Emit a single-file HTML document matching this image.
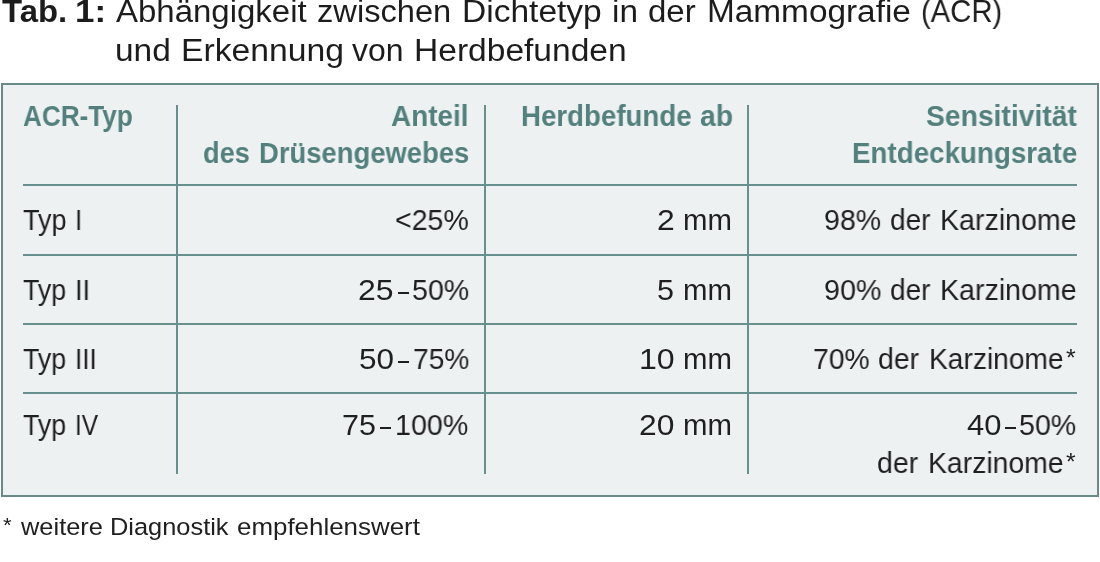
<!DOCTYPE html>
<html><head><meta charset="utf-8"><style>
html,body{margin:0;padding:0;background:#fff;}
body{width:1100px;height:562px;position:relative;overflow:hidden;font-family:"Liberation Sans",sans-serif;}
.box{position:absolute;left:1px;top:83px;width:1098px;height:414px;box-sizing:border-box;border:2px solid #6a8a87;background:#eef1f2;}
.hl{position:absolute;left:23px;width:1054px;height:2px;background:#67908d;}
.vl{position:absolute;top:105px;width:2px;height:369px;background:#67908d;}
.t{position:absolute;white-space:nowrap;transform-origin:0 0;will-change:transform;}
.dash{position:absolute;height:2px;}
</style></head><body>
<div class="box"></div>
<div class="hl" style="top:184px"></div>
<div class="hl" style="top:254px"></div>
<div class="hl" style="top:323px"></div>
<div class="hl" style="top:392px"></div>
<div class="vl" style="left:176px"></div>
<div class="vl" style="left:484px"></div>
<div class="vl" style="left:747px"></div>
<div class="t title-b" style="left:1.67px;top:-3.79px;font-size:31.000px;line-height:31.000px;font-weight:bold;color:#1c1c1c;transform:scaleX(1.0597)">Tab.</div>
<div class="t title-b" style="left:74.82px;top:-3.79px;font-size:31.000px;line-height:31.000px;font-weight:bold;color:#1c1c1c;transform:scaleX(1.1268)">1:</div>
<div class="t title1" style="left:115.52px;top:-3.79px;font-size:31.000px;line-height:31.000px;font-weight:normal;color:#1c1c1c;transform:scaleX(1.0634)">Abhängigkeit</div>
<div class="t title1" style="left:317.49px;top:-3.79px;font-size:31.000px;line-height:31.000px;font-weight:normal;color:#1c1c1c;transform:scaleX(1.0529)">zwischen</div>
<div class="t title1" style="left:462.13px;top:-3.79px;font-size:31.000px;line-height:31.000px;font-weight:normal;color:#1c1c1c;transform:scaleX(1.0814)">Dichtetyp</div>
<div class="t title1" style="left:612.25px;top:-3.79px;font-size:31.000px;line-height:31.000px;font-weight:normal;color:#1c1c1c;transform:scaleX(1.0753)">in</div>
<div class="t title1" style="left:648.10px;top:-3.79px;font-size:31.000px;line-height:31.000px;font-weight:normal;color:#1c1c1c;transform:scaleX(1.0648)">der</div>
<div class="t title1" style="left:706.55px;top:-3.79px;font-size:31.000px;line-height:31.000px;font-weight:normal;color:#1c1c1c;transform:scaleX(1.0759)">Mammografie</div>
<div class="t title1" style="left:920.67px;top:-3.79px;font-size:31.000px;line-height:31.000px;font-weight:normal;color:#1c1c1c;transform:scaleX(0.9425)">(ACR)</div>
<div class="t title2" style="left:114.83px;top:35.21px;font-size:31.000px;line-height:31.000px;font-weight:normal;color:#1c1c1c;transform:scaleX(1.0788)">und</div>
<div class="t title2" style="left:180.82px;top:35.21px;font-size:31.000px;line-height:31.000px;font-weight:normal;color:#1c1c1c;transform:scaleX(1.0867)">Erkennung</div>
<div class="t title2" style="left:351.64px;top:35.21px;font-size:31.000px;line-height:31.000px;font-weight:normal;color:#1c1c1c;transform:scaleX(1.0306)">von</div>
<div class="t title2" style="left:413.53px;top:35.21px;font-size:31.000px;line-height:31.000px;font-weight:normal;color:#1c1c1c;transform:scaleX(1.0824)">Herdbefunden</div>
<div class="t h1" style="left:23.15px;top:101.90px;font-size:29.000px;line-height:29.000px;font-weight:bold;color:#53807d;transform:scaleX(0.9001)">ACR-Typ</div>
<div class="t h2a" style="left:391.30px;top:101.90px;font-size:29.000px;line-height:29.000px;font-weight:bold;color:#53807d;transform:scaleX(0.9615)">Anteil</div>
<div class="t h2b" style="left:203.41px;top:138.90px;font-size:29.000px;line-height:29.000px;font-weight:bold;color:#53807d;transform:scaleX(0.9384)">des</div>
<div class="t h2b" style="left:258.95px;top:138.90px;font-size:29.000px;line-height:29.000px;font-weight:bold;color:#53807d;transform:scaleX(0.9451)">Drüsengewebes</div>
<div class="t h3" style="left:520.83px;top:101.90px;font-size:29.000px;line-height:29.000px;font-weight:bold;color:#53807d;transform:scaleX(0.9540)">Herdbefunde</div>
<div class="t h3" style="left:699.65px;top:101.90px;font-size:29.000px;line-height:29.000px;font-weight:bold;color:#53807d;transform:scaleX(0.9731)">ab</div>
<div class="t h4a" style="left:926.05px;top:101.90px;font-size:29.000px;line-height:29.000px;font-weight:bold;color:#53807d;transform:scaleX(0.9754)">Sensitivität</div>
<div class="t h4b" style="left:851.73px;top:138.90px;font-size:29.000px;line-height:29.000px;font-weight:bold;color:#53807d;transform:scaleX(0.9571)">Entdeckungsrate</div>
<div class="t r1a" style="left:23.29px;top:205.90px;font-size:29.000px;line-height:29.000px;font-weight:normal;color:#1f1f1f;transform:scaleX(0.9337)">Typ</div>
<div class="t r1a" style="left:75.20px;top:205.90px;font-size:29.000px;line-height:29.000px;font-weight:normal;color:#1f1f1f;transform:scaleX(0.8947)">I</div>
<div class="t r1b" style="left:395.17px;top:205.90px;font-size:29.000px;line-height:29.000px;font-weight:normal;color:#1f1f1f;transform:scaleX(0.9834)">&lt;25%</div>
<div class="t r1c" style="left:656.91px;top:205.90px;font-size:29.000px;line-height:29.000px;font-weight:normal;color:#1f1f1f;transform:scaleX(1.0989)">2</div>
<div class="t r1c" style="left:683.02px;top:205.90px;font-size:29.000px;line-height:29.000px;font-weight:normal;color:#1f1f1f;transform:scaleX(1.0125)">mm</div>
<div class="t r1d" style="left:823.94px;top:205.90px;font-size:29.000px;line-height:29.000px;font-weight:normal;color:#1f1f1f;transform:scaleX(0.9837)">98%</div>
<div class="t r1d" style="left:890.31px;top:205.90px;font-size:29.000px;line-height:29.000px;font-weight:normal;color:#1f1f1f;transform:scaleX(0.9643)">der</div>
<div class="t r1d" style="left:940.14px;top:205.90px;font-size:29.000px;line-height:29.000px;font-weight:normal;color:#1f1f1f;transform:scaleX(0.9858)">Karzinome</div>
<div class="t r2a" style="left:23.40px;top:275.90px;font-size:29.000px;line-height:29.000px;font-weight:normal;color:#1f1f1f;transform:scaleX(0.9247)">Typ</div>
<div class="t r2a" style="left:74.97px;top:275.90px;font-size:29.000px;line-height:29.000px;font-weight:normal;color:#1f1f1f;transform:scaleX(0.9413)">II</div>
<div class="t r2b" style="left:358.40px;top:275.90px;font-size:29.000px;line-height:29.000px;font-weight:normal;color:#1f1f1f;transform:scaleX(1.1021)">25</div>
<div class="dash" style="left:397.90px;top:291.50px;width:11.20px;background:#1f1f1f"></div>
<div class="t r2b" style="left:412.06px;top:275.90px;font-size:29.000px;line-height:29.000px;font-weight:normal;color:#1f1f1f;transform:scaleX(0.9852)">50%</div>
<div class="t r2c" style="left:657.28px;top:275.90px;font-size:29.000px;line-height:29.000px;font-weight:normal;color:#1f1f1f;transform:scaleX(1.0526)">5</div>
<div class="t r2c" style="left:683.02px;top:275.90px;font-size:29.000px;line-height:29.000px;font-weight:normal;color:#1f1f1f;transform:scaleX(1.0125)">mm</div>
<div class="t r2d" style="left:823.64px;top:275.90px;font-size:29.000px;line-height:29.000px;font-weight:normal;color:#1f1f1f;transform:scaleX(0.9891)">90%</div>
<div class="t r2d" style="left:890.31px;top:275.90px;font-size:29.000px;line-height:29.000px;font-weight:normal;color:#1f1f1f;transform:scaleX(0.9643)">der</div>
<div class="t r2d" style="left:940.14px;top:275.90px;font-size:29.000px;line-height:29.000px;font-weight:normal;color:#1f1f1f;transform:scaleX(0.9858)">Karzinome</div>
<div class="t r3a" style="left:23.40px;top:344.90px;font-size:29.000px;line-height:29.000px;font-weight:normal;color:#1f1f1f;transform:scaleX(0.9247)">Typ</div>
<div class="t r3a" style="left:75.07px;top:344.90px;font-size:29.000px;line-height:29.000px;font-weight:normal;color:#1f1f1f;transform:scaleX(0.9053)">III</div>
<div class="t r3b" style="left:359.34px;top:344.90px;font-size:29.000px;line-height:29.000px;font-weight:normal;color:#1f1f1f;transform:scaleX(1.0854)">50</div>
<div class="dash" style="left:397.90px;top:360.50px;width:11.20px;background:#1f1f1f"></div>
<div class="t r3b" style="left:412.92px;top:344.90px;font-size:29.000px;line-height:29.000px;font-weight:normal;color:#1f1f1f;transform:scaleX(0.9700)">75%</div>
<div class="t r3c" style="left:638.59px;top:344.90px;font-size:29.000px;line-height:29.000px;font-weight:normal;color:#1f1f1f;transform:scaleX(1.1062)">10</div>
<div class="t r3c" style="left:683.02px;top:344.90px;font-size:29.000px;line-height:29.000px;font-weight:normal;color:#1f1f1f;transform:scaleX(1.0125)">mm</div>
<div class="t r3d" style="left:813.11px;top:344.90px;font-size:29.000px;line-height:29.000px;font-weight:normal;color:#1f1f1f;transform:scaleX(0.9754)">70%</div>
<div class="t r3d" style="left:877.79px;top:344.90px;font-size:29.000px;line-height:29.000px;font-weight:normal;color:#1f1f1f;transform:scaleX(0.9792)">der</div>
<div class="t r3d" style="left:928.68px;top:344.90px;font-size:29.000px;line-height:29.000px;font-weight:normal;color:#1f1f1f;transform:scaleX(0.9709)">Karzinome</div>
<div class="t r3d" style="left:1065.96px;top:346.18px;font-size:24.000px;line-height:24.000px;font-weight:normal;color:#1f1f1f;transform:scaleX(1.0446)">*</div>
<div class="t r4a" style="left:23.40px;top:410.90px;font-size:29.000px;line-height:29.000px;font-weight:normal;color:#1f1f1f;transform:scaleX(0.9247)">Typ</div>
<div class="t r4a" style="left:75.24px;top:410.90px;font-size:29.000px;line-height:29.000px;font-weight:normal;color:#1f1f1f;transform:scaleX(0.8422)">IV</div>
<div class="t r4b" style="left:342.40px;top:410.90px;font-size:29.000px;line-height:29.000px;font-weight:normal;color:#1f1f1f;transform:scaleX(1.0506)">75</div>
<div class="dash" style="left:380.20px;top:426.50px;width:11.20px;background:#1f1f1f"></div>
<div class="t r4b" style="left:394.85px;top:410.90px;font-size:29.000px;line-height:29.000px;font-weight:normal;color:#1f1f1f;transform:scaleX(0.9872)">100%</div>
<div class="t r4c" style="left:638.91px;top:410.90px;font-size:29.000px;line-height:29.000px;font-weight:normal;color:#1f1f1f;transform:scaleX(1.0960)">20</div>
<div class="t r4c" style="left:683.02px;top:410.90px;font-size:29.000px;line-height:29.000px;font-weight:normal;color:#1f1f1f;transform:scaleX(1.0125)">mm</div>
<div class="t r4d1" style="left:967.30px;top:410.90px;font-size:29.000px;line-height:29.000px;font-weight:normal;color:#1f1f1f;transform:scaleX(1.0673)">40</div>
<div class="dash" style="left:1005.20px;top:426.50px;width:11.30px;background:#1f1f1f"></div>
<div class="t r4d1" style="left:1019.46px;top:410.90px;font-size:29.000px;line-height:29.000px;font-weight:normal;color:#1f1f1f;transform:scaleX(0.9852)">50%</div>
<div class="t r4d2" style="left:877.29px;top:448.90px;font-size:29.000px;line-height:29.000px;font-weight:normal;color:#1f1f1f;transform:scaleX(0.9817)">der</div>
<div class="t r4d2" style="left:928.16px;top:448.90px;font-size:29.000px;line-height:29.000px;font-weight:normal;color:#1f1f1f;transform:scaleX(0.9783)">Karzinome</div>
<div class="t r4d2" style="left:1066.07px;top:451.34px;font-size:23.000px;line-height:23.000px;font-weight:normal;color:#1f1f1f;transform:scaleX(1.0778)">*</div>
<div class="t foot" style="left:2.61px;top:514.16px;font-size:21.000px;line-height:21.000px;font-weight:normal;color:#202020;transform:scaleX(1.0597)">*</div>
<div class="t foot" style="left:21.00px;top:514.71px;font-size:24.500px;line-height:24.500px;font-weight:normal;color:#202020;transform:scaleX(1.0371)">weitere</div>
<div class="t foot" style="left:109.90px;top:514.71px;font-size:24.500px;line-height:24.500px;font-weight:normal;color:#202020;transform:scaleX(1.0365)">Diagnostik</div>
<div class="t foot" style="left:236.90px;top:514.71px;font-size:24.500px;line-height:24.500px;font-weight:normal;color:#202020;transform:scaleX(1.0574)">empfehlenswert</div>
</body></html>
